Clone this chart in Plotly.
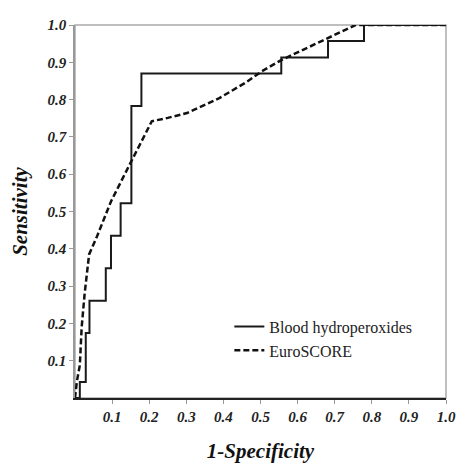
import plotly.graph_objects as go

# Blood hydroperoxides ROC (step curve)
bh_fpr = [0.0, 0.013, 0.029, 0.039, 0.083, 0.097, 0.123, 0.152, 0.179, 0.556, 0.682, 0.779, 1.0]
bh_tpr = [0.0, 0.043, 0.174, 0.261, 0.348, 0.435, 0.522, 0.783, 0.870, 0.913, 0.957, 1.0, 1.0]

# EuroSCORE ROC (dashed)
es_fpr = [0.0, 0.005, 0.013, 0.018, 0.026, 0.038, 0.058, 0.097, 0.152, 0.207, 0.25, 0.302, 0.389,
          0.459, 0.504, 0.556, 0.669, 0.756, 1.0]
es_tpr = [0.0, 0.044, 0.088, 0.19, 0.28, 0.385, 0.43, 0.527, 0.635, 0.742, 0.751, 0.764, 0.804,
          0.845, 0.876, 0.906, 0.959, 1.0, 1.0]

tick_vals = [0.1, 0.2, 0.3, 0.4, 0.5, 0.6, 0.7, 0.8, 0.9, 1.0]
tick_text = ["0.1", "0.2", "0.3", "0.4", "0.5", "0.6", "0.7", "0.8", "0.9", "1.0"]

SERIF = "Liberation Serif"

fig = go.Figure()
fig.add_trace(go.Scatter(x=bh_fpr, y=bh_tpr, mode="lines", name="Blood hydroperoxides",
                         line=dict(color="#1a1a1a", width=2, shape="hv")))
fig.add_trace(go.Scatter(x=es_fpr, y=es_tpr, mode="lines", name="EuroSCORE",
                         line=dict(color="#111111", width=2.5, dash="6px,3px")))

tickfont = dict(family=SERIF, size=15, color="#222", weight="bold", style="italic")
titlefont = dict(family=SERIF, size=21, color="#111", weight="bold", style="italic")

# page body has an 8px margin, so the figure is sized to fit the 465x468 window
fig.update_layout(
    width=457, height=460,
    margin=dict(l=67, r=9, t=9, b=64),
    paper_bgcolor="white", plot_bgcolor="white",
    showlegend=True,
    legend=dict(x=0.416, y=0.237, xanchor="left", yanchor="top",
                bgcolor="rgba(0,0,0,0)", font=dict(family=SERIF, size=16, color="#222")),
    xaxis=dict(range=[0, 1], tickvals=tick_vals, ticktext=tick_text, showgrid=False,
               zeroline=False, showline=True, linecolor="#222", linewidth=1.5,
               ticks="outside", ticklen=4, tickcolor="#999", tickfont=tickfont,
               ticklabeloverflow="allow",
               title=dict(text="1-Specificity", font=titlefont, standoff=20)),
    yaxis=dict(range=[0, 1], tickvals=tick_vals, ticktext=tick_text, showgrid=False,
               zeroline=False, showline=True, linecolor="#999", linewidth=1.5,
               ticks="outside", ticklen=4, tickcolor="#999", tickfont=tickfont,
               title=dict(text="Sensitivity", font=titlefont, standoff=14)),
    shapes=[dict(type="rect", xref="paper", yref="paper", x0=0, y0=0, x1=1, y1=1,
                 line=dict(color="#aaa", width=1.5), layer="below")],
)

fig.write_html("out.html")
